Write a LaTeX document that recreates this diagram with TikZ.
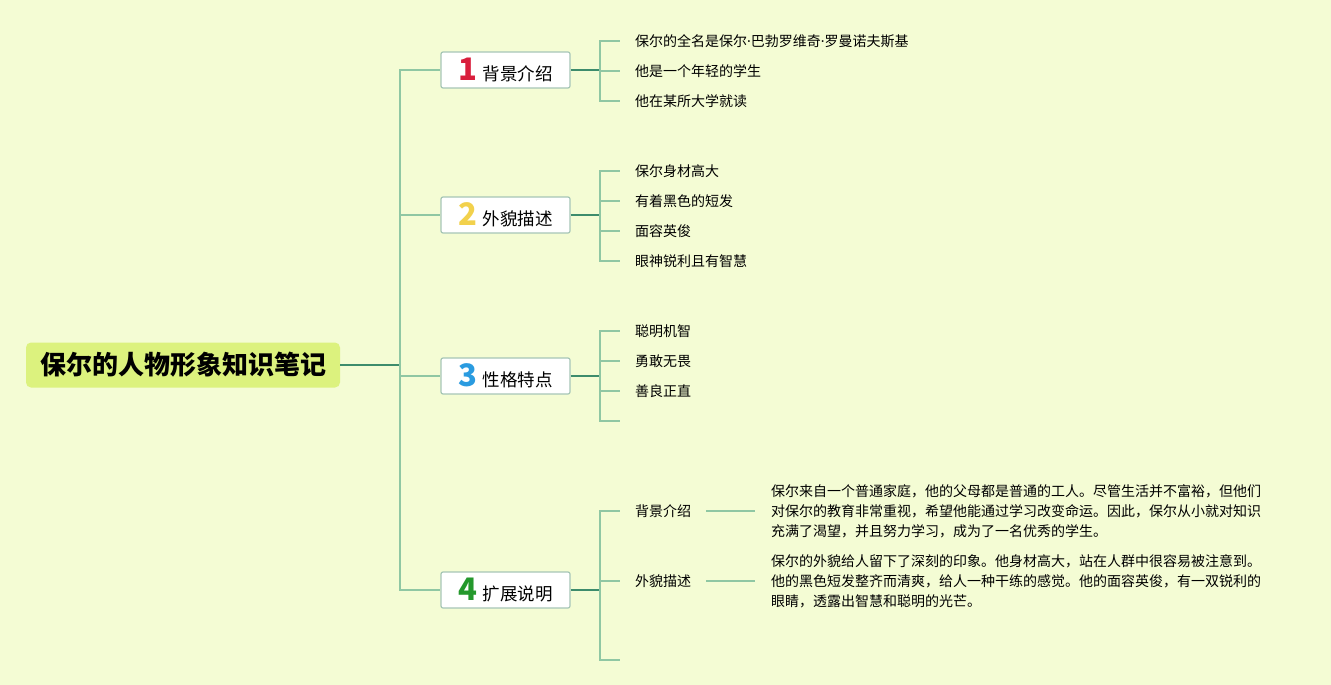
\documentclass[tikz,border=0pt]{standalone}
\usepackage{fontspec}
\usepackage{xcolor}
\setmainfont{Noto Sans CJK SC}
\newfontfamily\latinfont{Noto Sans}
\definecolor{bgcol}{HTML}{F4FCD4}
\definecolor{rootcol}{HTML}{DCF27E}
\definecolor{darkline}{HTML}{3D8C6C}
\definecolor{lightline}{HTML}{8FC7A3}
\definecolor{boxline}{HTML}{A6C6B6}
\definecolor{numred}{HTML}{D91E3C}
\definecolor{numyellow}{HTML}{F2D14C}
\definecolor{numblue}{HTML}{2A9BE0}
\definecolor{numgreen}{HTML}{24982C}
\newcommand\topicnum[2]{{\fontsize{31}{31}\selectfont\bfseries\color{#1}#2}\hspace{6pt}}
\newcommand\middot{{\latinfont ·}}

\begin{document}
\begin{tikzpicture}[x=1pt,y=-1pt]
        \tikzset{root/.style={fill=rootcol,rounded corners=5pt,minimum width=314pt,minimum height=45pt,
                font=\fontsize{26}{30}\selectfont\bfseries},
            topic/.style={draw=boxline,line width=1.2pt,fill=white,rounded corners=2pt,
                minimum width=129pt,minimum height=36pt,inner sep=0pt,font=\fontsize{17.5}{20}\selectfont},
            leaf/.style={anchor=west,inner xsep=15pt,inner ysep=0pt,font=\fontsize{14}{16}\selectfont},
            para/.style={anchor=west,inner xsep=16pt,align=left,font=\fontsize{14}{20}\selectfont},
            trunk/.style={draw=darkline,line width=2pt},
            twig/.style={draw=lightline,line width=1.5pt}}
        \fill[bgcol] (0,0) rectangle (1331,685);
        \useasboundingbox (0,0) rectangle (1331,685);

        % centre and main topics
        \node[root] (root) at (183,365) {保尔的人物形象知识笔记};
        \coordinate (hub) at (400,365);
        \node[topic] (b1) at (505.5,70) {\topicnum{numred}{1}背景介绍};
        \node[topic] (b2) at (505.5,215) {\topicnum{numyellow}{2}外貌描述};
        \node[topic] (b3) at (505.5,376) {\topicnum{numblue}{3}性格特点};
        \node[topic] (b4) at (505.5,590) {\topicnum{numgreen}{4}扩展说明};
        \draw[trunk] (root.east) -- (hub);
        \foreach \b in {b1,b2,b3,b4}
            \draw[twig] (hub) |- (\b.west);

        % subtopics
        \coordinate (j1) at (600,70);
        \coordinate (j2) at (600,215);
        \coordinate (j3) at (600,376);
        \coordinate (j4) at (600,590);
        \foreach \j/\b in {j1/b1,j2/b2,j3/b3,j4/b4}
            \draw[trunk] (\b.east) -- (\j);

        \foreach \txt [count=\i] in {保尔的全名是保尔\middot 巴勃罗维奇\middot 罗曼诺夫斯基,他是一个年轻的学生,他在某所大学就读}
            \node[leaf] (c1\i) at (620,11+30*\i) {\txt};
        \foreach \txt [count=\i] in {保尔身材高大,有着黑色的短发,面容英俊,眼神锐利且有智慧}
            \node[leaf] (c2\i) at (620,141+30*\i) {\txt};
        \foreach \txt [count=\i] in {聪明机智,勇敢无畏,善良正直,{}}
            \node[leaf] (c3\i) at (620,301+30*\i) {\txt};
        \foreach \i in {1,2,3}
            \draw[twig] (j1) |- (c1\i.west);
        \foreach \i in {1,2,3,4}
            \draw[twig] (j2) |- (c2\i.west);
        \foreach \i in {1,2,3,4}
            \draw[twig] (j3) |- (c3\i.west);

        % extended notes
        \node[leaf] (e1) at (620,511) {背景介绍};
        \node[leaf] (e2) at (620,581) {外貌描述};
        \node[leaf] (e3) at (620,660) {};
        \node[para] (p1) at (755,511) {保尔来自一个普通家庭，他的父母都是普通的工人。尽管生活并不富裕，但他们\\
            对保尔的教育非常重视，希望他能通过学习改变命运。因此，保尔从小就对知识\\
            充满了渴望，并且努力学习，成为了一名优秀的学生。};
        \node[para] (p2) at (755,581) {保尔的外貌给人留下了深刻的印象。他身材高大，站在人群中很容易被注意到。\\
            他的黑色短发整齐而清爽，给人一种干练的感觉。他的面容英俊，有一双锐利的\\
            眼睛，透露出智慧和聪明的光芒。};
        \foreach \e in {e1,e2,e3}
            \draw[twig] (j4) |- (\e.west);
        \draw[twig] (e1.east) -- (p1.west);
        \draw[twig] (e2.east) -- (p2.west);
    \end{tikzpicture}
\end{document}
